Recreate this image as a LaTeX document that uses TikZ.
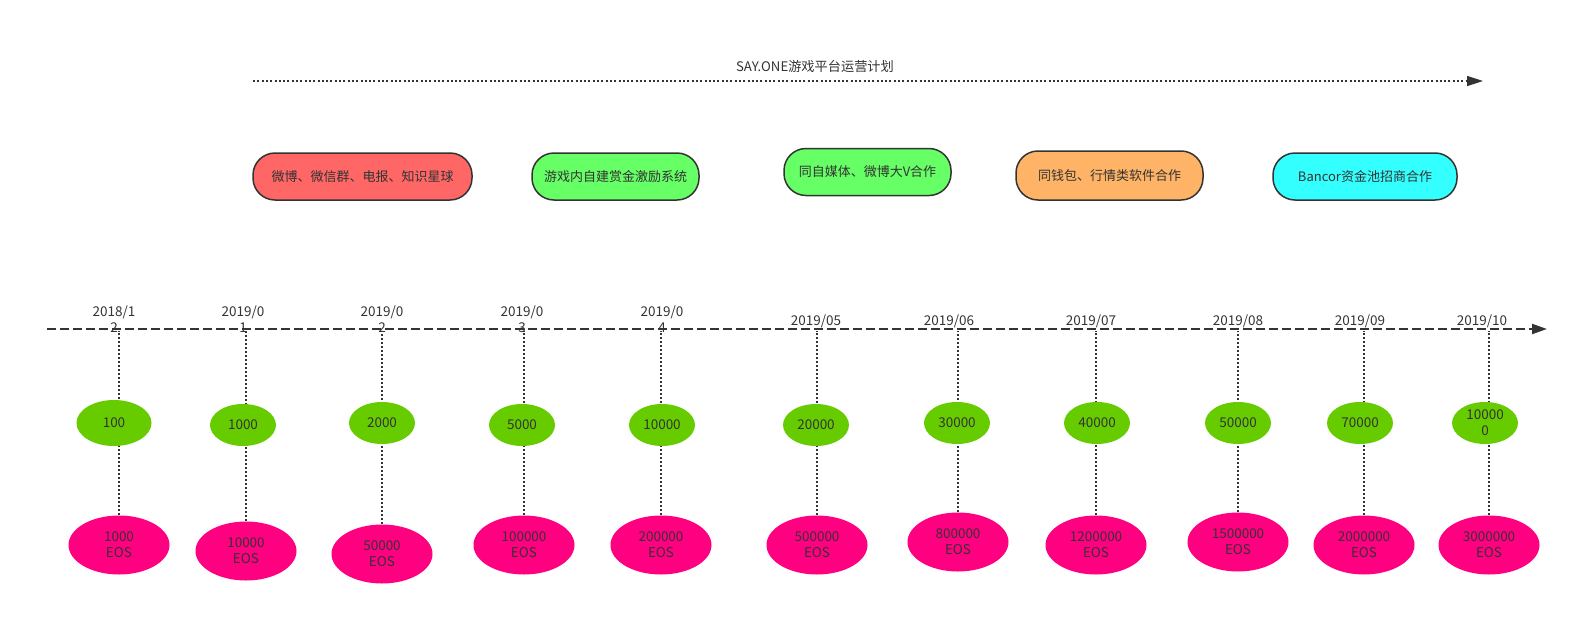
\documentclass[tikz,border=0pt]{standalone}
\usepackage{fontspec}
\setmainfont{Noto Sans CJK SC}
\usetikzlibrary{shapes.geometric, arrows.meta, backgrounds}

\definecolor{inkgray}{HTML}{333333}
\definecolor{planred}{HTML}{FF6666}
\definecolor{plangreen}{HTML}{66FF66}
\definecolor{planorange}{HTML}{FFB366}
\definecolor{plancyan}{HTML}{33FFFF}
\definecolor{countgreen}{HTML}{66CC00}
\definecolor{poolpink}{HTML}{FF0080}

\begin{document}
\begin{tikzpicture}[
    x=1pt, y=-1pt,
    every node/.style={text=inkgray, font=\fontsize{13.5}{16}\selectfont},
    plan/.style={rectangle, rounded corners=22pt, draw=inkgray, line width=1.5pt, minimum height=47pt, align=center, font=\fontsize{13}{16}\selectfont},
    date/.style={align=center, inner sep=0pt},
    count/.style={ellipse, fill=countgreen, minimum width=66pt, minimum height=42pt, inner sep=0pt, align=center},
    pool/.style={ellipse, fill=poolpink, minimum width=101pt, minimum height=59pt, inner sep=0pt, align=center},
    planarrow/.style={draw=inkgray, line width=1.5pt, dash pattern=on 2pt off 2.3pt, -{Triangle[length=16pt, width=10pt]}},
    timeline/.style={draw=inkgray, line width=2pt, dash pattern=on 9pt off 4pt, -{Triangle[length=15pt, width=10pt]}},
    guide/.style={draw=inkgray, line width=1.3pt, dash pattern=on 2pt off 2pt}
]
\useasboundingbox (0,0) rectangle (1577,616);

% plan line
\coordinate (pl0) at (253,81);
\coordinate (pl1) at (1483,81);
\draw[planarrow] (pl0) -- (pl1);
\node[font=\fontsize{13.2}{16}\selectfont] (title) at (815,66) {SAY.ONE游戏平台运营计划};

\node[plan, fill=planred, minimum width=219pt] (p1) at (362.5,176.5) {微博、微信群、电报、知识星球};
\node[plan, fill=plangreen, minimum width=167pt] (p2) at (615.5,176.5) {游戏内自建赏金激励系统};
\node[plan, fill=plangreen, minimum width=167pt] (p3) at (867.5,172) {同自媒体、微博大V合作};
\node[plan, fill=planorange, minimum width=187pt, minimum height=49pt] (p4) at (1109.5,175.5) {同钱包、行情类软件合作};
\node[plan, fill=plancyan, minimum width=184pt] (p5) at (1365,176.5) {Bancor资金池招商合作};

% time line
\coordinate (tl0) at (47,329);
\coordinate (tl1) at (1547,329);
\draw[timeline] (tl0) -- (tl1);
\coordinate (tlb) at (0,331);

\node[date] (d1) at (114,319) {2018/1\\2};
\node[date] (d2) at (243,319) {2019/0\\1};
\node[date] (d3) at (382,319) {2019/0\\2};
\node[date] (d4) at (522,319) {2019/0\\3};
\node[date] (d5) at (662,319) {2019/0\\4};
\node[date] (d6) at (816,321) {2019/05};
\node[date] (d7) at (949,321) {2019/06};
\node[date] (d8) at (1091,321) {2019/07};
\node[date] (d9) at (1238,321) {2019/08};
\node[date] (d10) at (1360,321) {2019/09};
\node[date] (d11) at (1482,321) {2019/10};

% users
\node[count, minimum width=75pt, minimum height=46pt] (c1) at (114,423) {100};
\node[count] (c2) at (243,425) {1000};
\node[count] (c3) at (382,423) {2000};
\node[count] (c4) at (522,425) {5000};
\node[count] (c5) at (662,425) {10000};
\node[count] (c6) at (816,425) {20000};
\node[count] (c7) at (957,423) {30000};
\node[count] (c8) at (1097,423) {40000};
\node[count] (c9) at (1238,423) {50000};
\node[count] (c10) at (1360,423) {70000};
\node[count] (c11) at (1485,423) {10000\\0};

% pool
\node[pool] (e1) at (119,545) {1000\\EOS};
\node[pool] (e2) at (246,551) {10000\\EOS};
\node[pool] (e3) at (382,554) {50000\\EOS};
\node[pool] (e4) at (524,545) {100000\\EOS};
\node[pool] (e5) at (661,545) {200000\\EOS};
\node[pool] (e6) at (817,545) {500000\\EOS};
\node[pool] (e7) at (958,542) {800000\\EOS};
\node[pool] (e8) at (1096,545) {1200000\\EOS};
\node[pool] (e9) at (1238,542) {1500000\\EOS};
\node[pool] (e10) at (1364,545) {2000000\\EOS};
\node[pool] (e11) at (1489,545) {3000000\\EOS};

\begin{scope}[on background layer]
\draw[guide] (e1.north) -- (e1.north |- tlb);
\draw[guide] (e2.north) -- (e2.north |- tlb);
\draw[guide] (e3.north) -- (e3.north |- tlb);
\draw[guide] (e4.north) -- (e4.north |- tlb);
\draw[guide] (e5.north) -- (e5.north |- tlb);
\draw[guide] (e6.north) -- (e6.north |- tlb);
\draw[guide] (e7.north) -- (e7.north |- tlb);
\draw[guide] (e8.north) -- (e8.north |- tlb);
\draw[guide] (e9.north) -- (e9.north |- tlb);
\draw[guide] (e10.north) -- (e10.north |- tlb);
\draw[guide] (e11.north) -- (e11.north |- tlb);
\end{scope}

\end{tikzpicture}
\end{document}
